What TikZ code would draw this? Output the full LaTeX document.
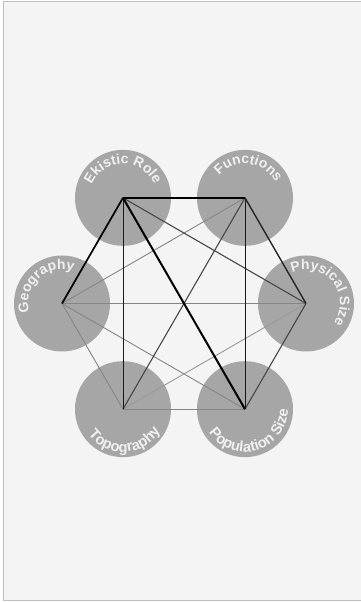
\documentclass[tikz,border=0pt]{standalone}
\usepackage{fontspec}
\setmainfont{Liberation Sans}
\newfontfamily\labelfont{Liberation Sans Bold}
\usetikzlibrary{decorations.text,calc}
\definecolor{PaperGray}{RGB}{244,244,244}
\definecolor{FrameGray}{RGB}{190,190,190}
\definecolor{DiscGray}{RGB}{166,166,166}
\definecolor{LabelWhite}{RGB}{240,240,240}
\tikzset{
  disc/.style={circle,fill=DiscGray,minimum size=96pt,inner sep=0pt},
  heavy/.style={black,line width=1.7pt},
  strong/.style={black!85,line width=1.4pt},
  medium/.style={black!72,line width=1.1pt},
  thin/.style={black!90,line width=0.8pt},
  faint/.style={black!48,line width=0.9pt},
  arclabel/.style={decorate,decoration={text along path,text align=center,
    text color=LabelWhite,text={|\labelfont\fontsize{14}{15}\selectfont|#1}}},
  lowlabel/.style={decorate,decoration={text along path,text align=center,
    text color=LabelWhite,text={|\labelfont\fontsize{14.8}{15}\selectfont|#1}}}
}
\begin{document}
\begin{tikzpicture}[x=1pt,y=1pt]
  \useasboundingbox (0,0) rectangle (361,602);
  \draw[draw=FrameGray,fill=PaperGray,line width=1.2pt] (3.5,1.5) rectangle (366,600.5);

  \coordinate (mid) at (184,298.5);
  \node[disc] (ekistic) at ($(mid)+(120:122)$) {};
  \node[disc] (functions) at ($(mid)+(60:122)$) {};
  \node[disc] (physical) at ($(mid)+(0:122)$) {};
  \node[disc] (population) at ($(mid)+(-60:122)$) {};
  \node[disc] (topography) at ($(mid)+(-120:122)$) {};
  \node[disc] (geography) at ($(mid)+(180:122)$) {};

  % links
  \draw[faint] (geography.center) -- (physical.center);
  \draw[faint] (geography.center) -- (topography.center);
  \draw[faint] (geography.center) -- (population.center);
  \draw[faint] (geography.center) -- (functions.center);
  \draw[faint] (topography.center) -- (population.center);
  \draw[faint,black!40] (topography.center) -- (physical.center);
  \draw[medium] (physical.center) -- (population.center);
  \draw[medium] (functions.center) -- (topography.center);
  \draw[medium] (ekistic.center) -- (physical.center);
  \draw[thin] (ekistic.center) -- (topography.center);
  \draw[thin] (functions.center) -- (population.center);
  \draw[strong] (functions.center) -- (physical.center);
  \draw[heavy] (ekistic.center) -- (functions.center);
  \draw[heavy] (ekistic.center) -- (geography.center);
  \draw[heavy,line width=2pt] (ekistic.center) -- (population.center);

  % labels
  \path[arclabel={Ekistic Role}] ([shift={(170:34)}]ekistic.center)
    arc[start angle=170,end angle=10,radius=34];
  \path[arclabel={Functions}] ([shift={(163:34)}]functions.center)
    arc[start angle=163,end angle=3,radius=34];
  \path[arclabel={Geography}] ([shift={(213:34)}]geography.center)
    arc[start angle=213,end angle=53,radius=34];
  \path[arclabel={Physical Size}] ([shift={(119:34)}]physical.center)
    arc[start angle=119,end angle=-41,radius=34];
  \path[lowlabel={Topography}] ([shift={(183:43)}]topography.center)
    arc[start angle=183,end angle=363,radius=43];
  \path[lowlabel={Population Size}] ([shift={(196:43)}]population.center)
    arc[start angle=196,end angle=376,radius=43];
\end{tikzpicture}
\end{document}
